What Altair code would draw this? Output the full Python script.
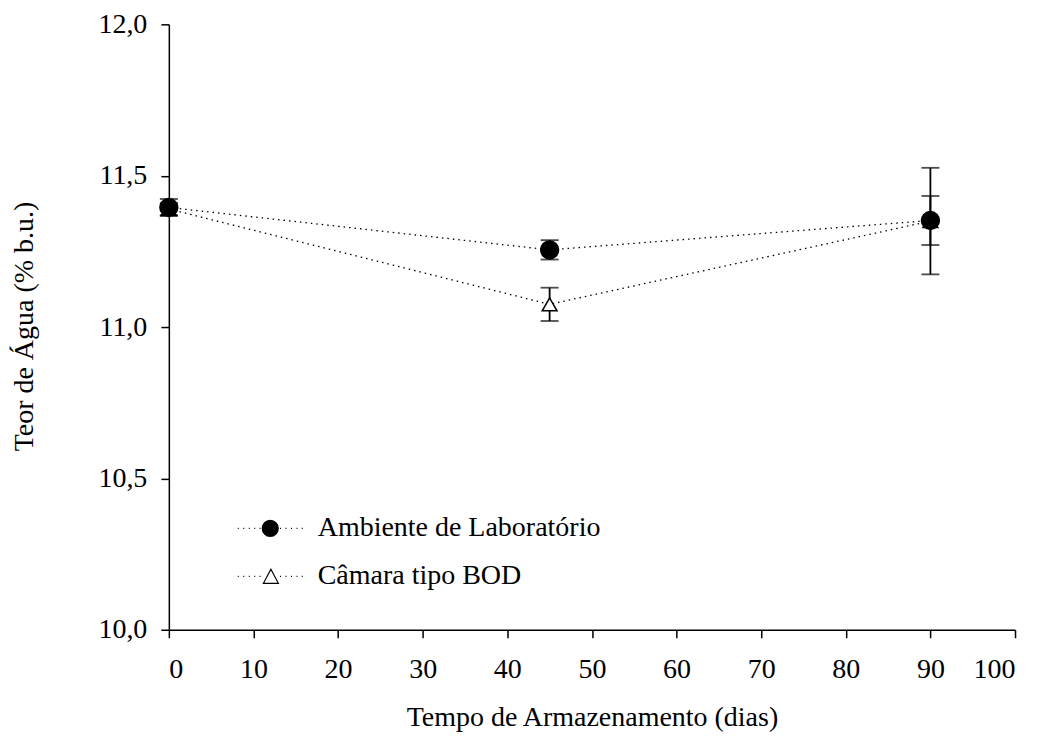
import altair as alt
import pandas as pd

days = [0, 45, 90]
series_names = ["Ambiente de Laboratório", "Câmara tipo BOD"]
lab_mean = [11.395, 11.255, 11.352]
lab_err = [0.028, 0.032, 0.081]
bod_mean = [11.39, 11.075, 11.35]
bod_err = [0.02, 0.055, 0.176]

rows = []
for s, means, errs in [(series_names[1], bod_mean, bod_err), (series_names[0], lab_mean, lab_err)]:
    for d, m, e in zip(days, means, errs):
        rows.append({"serie": s, "dia": d, "media": m, "lo": m - e, "hi": m + e})
df = pd.DataFrame(rows)

FONT = "Liberation Serif"
Y_TITLE = "Teor de Água (% b.u.)"
X_TITLE = "Tempo de Armazenamento (dias)"

x_enc = alt.X("dia:Q", scale=alt.Scale(domain=[0, 100], nice=False), title=X_TITLE,
              axis=alt.Axis(values=list(range(0, 101, 10)), title=X_TITLE,
                            titleY=96, titleBaseline="alphabetic", labelPadding=18))
y_scale = alt.Scale(domain=[10, 12], nice=False, zero=False)
y_axis = alt.Axis(values=[10, 10.5, 11, 11.5, 12], title=Y_TITLE,
                  labelExpr="replace(format(datum.value, '.1f'), '.', ',')",
                  titleX=-144, titleY=302, titleBaseline="middle", labelPadding=14)

base = alt.Chart(df)

lines = base.mark_line(color="black", strokeWidth=1.3, strokeDash=[1.5, 4]).encode(
    x=x_enc,
    y=alt.Y("media:Q", scale=y_scale, axis=y_axis, title=Y_TITLE),
    detail="serie:N",
)

errs = base.mark_errorbar(
    color="black",
    ticks=alt.TickConfig(size=18, thickness=1.8, color="black"),
    rule=alt.MarkConfig(strokeWidth=1.8, color="black"),
).encode(
    x=alt.X("dia:Q", title=X_TITLE),
    y=alt.Y("lo:Q", scale=y_scale, title=Y_TITLE),
    y2="hi:Q",
)

pts = base.mark_point(strokeWidth=1.5, opacity=1).encode(
    x=alt.X("dia:Q", title=X_TITLE),
    y=alt.Y("media:Q", scale=y_scale, title=Y_TITLE),
    shape=alt.Shape("serie:N", scale=alt.Scale(domain=series_names, range=["circle", "triangle-up"]), legend=None),
    fill=alt.Fill("serie:N", scale=alt.Scale(domain=series_names, range=["black", "white"]), legend=None),
    stroke=alt.Stroke("serie:N", scale=alt.Scale(domain=series_names, range=["black", "black"]), legend=None),
    size=alt.Size("serie:N", scale=alt.Scale(domain=series_names, range=[320, 220]), legend=None),
)

dots = "".join(f"M{v:.2f},0h0.03" for v in [-1.0, -0.83, -0.66, -0.49, -0.33, 0.30, 0.47, 0.64, 0.81, 0.97])
circle_path = "M-0.246,0A0.246,0.246,0,1,0,0.246,0A0.246,0.246,0,1,0,-0.246,0Z" + dots
tri_path = "M0.02,-0.215L0.25,0.215L-0.21,0.215Z" + dots

legend = alt.Legend(
    title=None, orient="none", legendX=68, legendY=471, symbolSize=4225,
    symbolStrokeWidth=1.2, symbolOpacity=1,
    labelFont=FONT, labelFontSize=28, labelColor="black", labelOffset=14, labelLimit=0,
    rowPadding=-2, padding=0,
)

dummy = base.mark_point(size=0, strokeWidth=1.2, opacity=0).encode(
    x=alt.X("dia:Q", title=X_TITLE),
    y=alt.Y("media:Q", scale=y_scale, title=Y_TITLE),
    shape=alt.Shape("serie:N", scale=alt.Scale(domain=series_names, range=[circle_path, tri_path]), legend=legend),
    fill=alt.Fill("serie:N", scale=alt.Scale(domain=series_names, range=["black", "white"]), legend=legend),
    stroke=alt.Stroke("serie:N", scale=alt.Scale(domain=series_names, range=["black", "black"]), legend=legend),
)

chart = alt.layer(lines, errs, dummy, pts).resolve_scale(
    shape="independent", fill="independent", stroke="independent", size="independent"
).properties(
    width=847, height=606,
    autosize=alt.AutoSizeParams(type="none"),
    padding={"left": 161, "top": 16, "right": 20, "bottom": 102},
).configure_view(stroke=None).configure_axis(
    grid=False, domainColor="black", domainWidth=1.5, tickColor="black", tickWidth=1.5,
    tickSize=8, labelFont=FONT, labelFontSize=28, labelColor="black",
    titleFont=FONT, titleFontSize=28, titleColor="black", titleFontWeight="normal",
)

chart.save("out.html", embed_options={"renderer": "svg", "actions": False})
